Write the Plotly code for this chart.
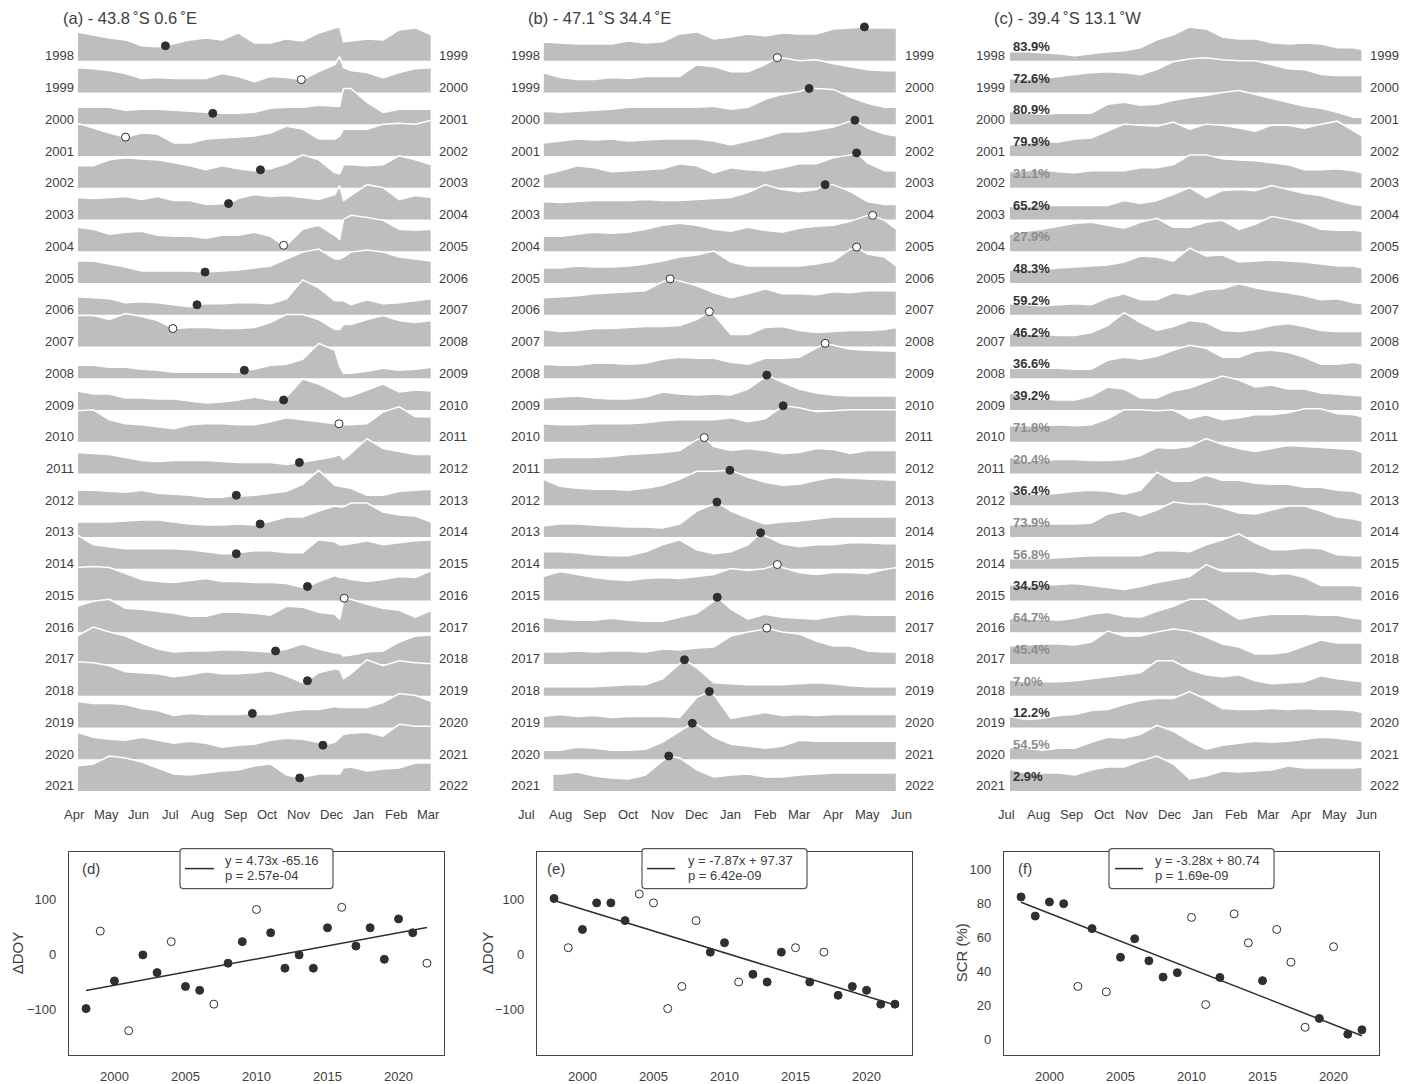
import plotly.graph_objects as go

W, H = 1416, 1084
FONT = "Liberation Sans, Arial, sans-serif"
FILL = "#bdbec0"
DARK = "#2f2f2f"
TEXT = "#3d3d3d"
GREY_TEXT = "#8c8c8c"
ROW_GAP = 31.83  # distance between ridge baselines

SEASONS = list(range(1998, 2022))
SCATTER_YEARS = list(range(1998, 2023))

MONTHS_A = ["Apr", "May", "Jun", "Jul", "Aug", "Sep", "Oct", "Nov", "Dec", "Jan", "Feb", "Mar"]
MONTHS_BC = ["Jul", "Aug", "Sep", "Oct", "Nov", "Dec", "Jan", "Feb", "Mar", "Apr", "May", "Jun"]

# ---------------- (a) 43.8S 0.6E : seasonal index per season (month offset from April)
GRID_A = [0.1, 0.6, 1.1, 1.6, 2.1, 2.6, 3.1, 3.6, 4.1, 4.6, 5.1, 5.6, 6.1, 6.6, 7.1, 7.6,
          8.1, 8.25, 8.37, 8.6, 9.1, 9.6, 10.1, 10.6, 11.1]
A_ROWS = [
    [29, 26, 23, 21, 15, 14, 17, 21, 23, 21, 28, 18, 18, 22, 20, 28, 33, 34, 19, 20, 22, 21, 31, 33, 26],
    [25, 24, 22, 19, 14, 15, 14, 14, 14, 19, 16, 11, 16, 15, 13, 21, 28, 36, 25, 22, 20, 15, 20, 24, 25],
    [17, 17, 17, 14, 15, 15, 14, 13, 12, 11, 11, 12, 16, 17, 17, 19, 18, 18, 36, 36, 22, 12, 15, 15, 15],
    [33, 28, 23, 19, 23, 22, 13, 13, 17, 18, 19, 20, 23, 30, 27, 17, 17, 20, 27, 27, 27, 32, 33, 32, 36],
    [22, 22, 28, 30, 29, 28, 25, 22, 18, 22, 19, 17, 19, 24, 33, 28, 15, 14, 23, 23, 22, 23, 32, 28, 23],
    [22, 21, 22, 23, 20, 23, 19, 19, 15, 16, 21, 25, 23, 24, 22, 20, 25, 34, 19, 24, 35, 32, 20, 24, 22],
    [24, 22, 17, 19, 20, 16, 15, 15, 13, 16, 16, 19, 15, 6, 22, 26, 16, 12, 32, 36, 34, 31, 22, 21, 22],
    [22, 22, 19, 16, 12, 12, 12, 12, 11, 12, 13, 15, 17, 24, 31, 34, 24, 24, 26, 31, 33, 31, 26, 24, 22],
    [18, 17, 16, 12, 13, 12, 10, 8, 11, 11, 12, 12, 11, 16, 35, 27, 14, 14, 14, 10, 15, 11, 12, 14, 16],
    [31, 31, 27, 33, 30, 26, 18, 19, 19, 18, 18, 19, 24, 32, 32, 27, 17, 17, 22, 22, 27, 31, 26, 24, 26],
    [13, 13, 11, 11, 9, 8, 6, 6, 6, 6, 6, 9, 13, 14, 19, 35, 28, 12, 5, 5, 7, 10, 8, 9, 11],
    [19, 16, 16, 12, 12, 11, 11, 9, 7, 8, 10, 13, 10, 13, 31, 26, 18, 15, 13, 14, 20, 26, 18, 20, 19],
    [31, 32, 22, 18, 17, 15, 13, 17, 18, 18, 17, 17, 20, 24, 22, 20, 18, 18, 17, 17, 18, 30, 35, 25, 25],
    [21, 20, 19, 16, 13, 12, 13, 13, 13, 12, 11, 11, 11, 9, 11, 14, 17, 19, 14, 20, 35, 25, 22, 19, 19],
    [15, 15, 14, 13, 15, 12, 11, 10, 8, 8, 9, 10, 12, 14, 21, 35, 20, 19, 18, 17, 10, 10, 14, 15, 16],
    [15, 15, 15, 16, 17, 17, 15, 13, 12, 12, 13, 12, 16, 20, 20, 26, 31, 30, 30, 34, 34, 25, 22, 21, 15],
    [34, 24, 22, 20, 20, 20, 20, 19, 17, 15, 16, 18, 18, 16, 16, 29, 27, 24, 24, 25, 28, 24, 26, 28, 29],
    [33, 34, 33, 27, 21, 19, 18, 20, 22, 19, 19, 18, 18, 17, 13, 19, 25, 23, 23, 21, 19, 21, 24, 23, 30],
    [26, 31, 33, 24, 23, 21, 19, 16, 16, 20, 20, 19, 17, 26, 25, 20, 18, 13, 32, 33, 28, 24, 22, 15, 22],
    [28, 37, 32, 28, 21, 15, 12, 13, 13, 14, 14, 13, 12, 15, 20, 15, 11, 11, 8, 9, 12, 13, 22, 28, 29],
    [34, 33, 30, 24, 23, 22, 19, 21, 24, 22, 22, 23, 25, 20, 13, 23, 27, 26, 17, 22, 36, 30, 35, 33, 32],
    [26, 24, 24, 23, 19, 17, 12, 14, 13, 13, 13, 13, 13, 16, 18, 18, 21, 20, 20, 20, 20, 25, 34, 32, 26],
    [27, 22, 20, 19, 22, 19, 16, 18, 16, 12, 14, 15, 19, 21, 20, 17, 17, 22, 25, 26, 27, 23, 35, 33, 33],
    [25, 27, 35, 33, 29, 23, 17, 16, 18, 20, 21, 25, 27, 16, 14, 17, 17, 17, 23, 24, 20, 22, 23, 28, 28],
]
A_DOT_M = [2.84, 7.06, 4.31, 1.60, 5.79, 4.80, 6.51, 4.07, 3.82, 3.07, 5.29, 6.51,
           8.23, 7.00, 5.04, 5.78, 5.04, 7.25, 8.39, 6.26, 7.25, 5.54, 7.73, 7.01]
A_DOT_H = [15, 13, 11, 19, 18, 16, 6, 11, 10, 18, 8, 10, 18, 11, 10, 13, 15, 14, 34, 13, 15, 14, 14, 13]
A_DOT_OPEN = [0, 1, 0, 1, 0, 0, 1, 0, 0, 1, 0, 0, 1, 0, 0, 0, 0, 0, 1, 0, 0, 0, 0, 0]

# ---------------- (b) 47.1S 34.4E (month offset from July)
GRID_B = [0.5, 1.0, 1.5, 2.0, 2.5, 3.0, 3.5, 4.0, 4.5, 5.0, 5.5, 6.0, 6.5, 7.0, 7.5, 8.0,
          8.5, 9.0, 9.5, 10.0, 10.5, 10.85]
B_ROWS = [
    [19, 18, 17, 17, 17, 20, 18, 19, 27, 29, 22, 24, 27, 25, 28, 27, 27, 32, 33, 33, 33, 33],
    [20, 15, 13, 13, 15, 14, 16, 16, 16, 28, 26, 21, 21, 28, 35, 32, 33, 29, 26, 23, 22, 22],
    [13, 12, 13, 14, 15, 17, 17, 17, 17, 17, 18, 15, 17, 25, 30, 33, 36, 35, 27, 21, 17, 17],
    [13, 15, 17, 16, 17, 15, 16, 17, 17, 17, 15, 11, 15, 19, 24, 24, 26, 29, 35, 28, 22, 20],
    [13, 17, 22, 20, 16, 17, 18, 19, 24, 22, 15, 20, 18, 17, 20, 24, 24, 30, 33, 25, 17, 17],
    [18, 17, 18, 19, 19, 19, 20, 19, 19, 20, 21, 22, 27, 35, 30, 28, 30, 35, 28, 18, 15, 15],
    [15, 15, 17, 19, 18, 19, 22, 26, 28, 26, 22, 20, 24, 21, 19, 23, 25, 26, 30, 36, 31, 22],
    [15, 15, 17, 16, 16, 17, 19, 22, 26, 28, 32, 21, 17, 17, 17, 17, 19, 22, 34, 29, 26, 17],
    [17, 18, 19, 21, 22, 23, 24, 33, 34, 29, 22, 17, 21, 26, 21, 21, 20, 23, 22, 24, 24, 24],
    [17, 15, 16, 18, 18, 19, 20, 20, 21, 27, 32, 12, 12, 19, 20, 16, 14, 15, 16, 16, 17, 19],
    [14, 13, 13, 15, 15, 14, 15, 19, 21, 20, 20, 16, 14, 20, 20, 21, 30, 33, 29, 28, 27, 27],
    [12, 13, 14, 12, 11, 11, 13, 18, 16, 15, 16, 15, 21, 33, 28, 21, 17, 15, 14, 14, 14, 14],
    [18, 17, 17, 18, 18, 18, 19, 21, 22, 22, 22, 24, 20, 23, 35, 34, 30, 31, 32, 32, 32, 32],
    [15, 16, 16, 16, 17, 19, 20, 21, 23, 34, 27, 23, 25, 23, 20, 21, 25, 24, 20, 23, 23, 23],
    [26, 19, 17, 16, 16, 15, 17, 20, 26, 34, 34, 35, 28, 23, 20, 21, 25, 28, 27, 26, 25, 25],
    [11, 13, 13, 12, 11, 10, 10, 9, 13, 26, 33, 26, 19, 13, 15, 16, 18, 20, 20, 20, 20, 20],
    [17, 17, 16, 14, 13, 13, 17, 24, 29, 19, 15, 17, 24, 33, 25, 22, 24, 24, 26, 26, 25, 25],
    [24, 29, 26, 23, 21, 20, 22, 23, 22, 24, 26, 32, 30, 32, 33, 28, 26, 28, 28, 27, 31, 33],
    [15, 13, 12, 12, 14, 12, 11, 11, 15, 19, 31, 23, 13, 18, 15, 14, 13, 16, 18, 17, 17, 17],
    [12, 12, 13, 12, 13, 13, 12, 15, 14, 16, 17, 28, 32, 35, 32, 30, 23, 18, 18, 13, 12, 12],
    [9, 9, 9, 9, 10, 11, 11, 17, 32, 28, 13, 12, 11, 11, 11, 12, 13, 12, 10, 9, 9, 9],
    [11, 13, 11, 12, 10, 11, 11, 11, 10, 30, 33, 9, 12, 15, 12, 13, 12, 13, 13, 13, 13, 13],
    [9, 9, 12, 11, 9, 9, 10, 17, 28, 35, 22, 15, 13, 11, 13, 19, 18, 18, 18, 18, 18, 18],
    [None, 17, 19, 15, 13, 12, 16, 30, 33, 21, 14, 16, 17, 14, 14, 16, 17, 18, 18, 18, 18, 18],
]
# the last season's record begins later than the others: (month, value) of its first sample
B_LATE_START = {23: (0.78, 17)}
B_DOT_M = [9.91, 7.36, 8.29, 9.63, 9.68, 8.76, 10.15, 9.68, 4.22, 5.37, 8.76, 7.05,
           7.53, 5.22, 5.97, 5.59, 6.87, 7.36, 5.60, 7.05, 4.64, 5.37, 4.87, 4.18]
B_DOT_H = [34, 35, 36, 36, 35, 35, 36, 36, 36, 35, 35, 35, 36, 36, 35, 35, 36, 36, 35, 36, 36, 36, 36, 35]
B_DOT_OPEN = [0, 1, 0, 0, 0, 0, 1, 1, 1, 1, 1, 0, 0, 1, 0, 0, 0, 1, 0, 1, 0, 0, 0, 0]

# ---------------- (c) 39.4S 13.1W (month offset from July)
GRID_C = [0.1, 0.6, 1.1, 1.6, 2.1, 2.6, 3.1, 3.6, 4.1, 4.6, 5.1, 5.6, 6.1, 6.6, 7.1, 7.6,
          8.1, 8.6, 9.1, 9.6, 10.1, 10.6, 10.86]
C_ROWS = [
    [9, 9, 8, 7, 5, 7, 9, 10, 13, 21, 26, 34, 32, 24, 22, 22, 18, 17, 18, 17, 13, 13, 11],
    [14, 13, 14, 16, 18, 20, 21, 20, 18, 23, 31, 34, 35, 33, 32, 32, 28, 24, 23, 18, 17, 17, 17],
    [13, 11, 10, 11, 11, 11, 20, 22, 19, 20, 24, 27, 29, 32, 34, 30, 26, 22, 18, 16, 12, 7, 7],
    [11, 13, 14, 14, 17, 18, 25, 32, 31, 30, 34, 27, 32, 31, 28, 25, 31, 31, 28, 32, 35, 25, 20],
    [16, 17, 18, 16, 15, 17, 17, 17, 20, 20, 23, 33, 33, 29, 28, 27, 25, 23, 18, 18, 19, 17, 15],
    [13, 13, 14, 14, 14, 14, 14, 19, 16, 19, 25, 32, 22, 29, 30, 29, 34, 30, 26, 24, 19, 15, 14],
    [17, 20, 22, 25, 28, 29, 26, 23, 29, 33, 24, 24, 29, 31, 22, 27, 35, 32, 28, 22, 21, 21, 20],
    [13, 13, 13, 15, 16, 17, 18, 21, 27, 26, 22, 35, 27, 28, 21, 22, 23, 22, 21, 19, 17, 17, 15],
    [11, 10, 9, 10, 11, 10, 17, 21, 15, 15, 22, 20, 25, 26, 31, 27, 24, 22, 19, 15, 16, 12, 11],
    [13, 12, 12, 11, 11, 14, 21, 34, 24, 16, 20, 26, 24, 16, 15, 17, 21, 23, 20, 16, 15, 15, 15],
    [10, 10, 10, 10, 9, 9, 18, 21, 19, 22, 28, 33, 30, 21, 21, 27, 28, 26, 21, 14, 14, 16, 14],
    [18, 11, 11, 10, 10, 14, 23, 21, 12, 12, 19, 22, 28, 34, 30, 23, 25, 21, 21, 17, 16, 15, 14],
    [16, 16, 16, 17, 16, 17, 23, 32, 32, 31, 32, 23, 27, 22, 24, 27, 27, 29, 33, 33, 28, 27, 25],
    [17, 12, 13, 14, 14, 13, 13, 14, 18, 26, 25, 27, 35, 29, 25, 22, 25, 28, 27, 26, 25, 24, 21],
    [15, 11, 11, 12, 14, 15, 14, 11, 15, 33, 24, 24, 30, 25, 25, 22, 21, 21, 18, 18, 15, 14, 11],
    [12, 13, 13, 13, 13, 14, 23, 26, 21, 27, 35, 33, 33, 29, 24, 23, 27, 31, 31, 26, 20, 18, 16],
    [10, 10, 10, 11, 12, 13, 13, 13, 13, 18, 18, 17, 24, 29, 35, 26, 19, 19, 21, 20, 14, 13, 13],
    [16, 15, 15, 16, 17, 15, 13, 11, 14, 18, 21, 24, 36, 29, 29, 29, 26, 27, 23, 15, 15, 15, 14],
    [14, 13, 13, 12, 14, 18, 20, 16, 15, 21, 26, 33, 33, 23, 13, 16, 18, 18, 18, 17, 17, 14, 13],
    [18, 19, 20, 20, 19, 22, 33, 28, 28, 32, 35, 33, 27, 20, 17, 10, 10, 12, 18, 24, 21, 21, 21],
    [16, 14, 14, 14, 15, 17, 19, 21, 23, 35, 35, 26, 21, 19, 21, 15, 12, 13, 14, 20, 17, 15, 14],
    [11, 8, 9, 12, 13, 17, 18, 23, 27, 29, 29, 36, 28, 19, 18, 18, 19, 18, 19, 18, 18, 17, 15],
    [12, 11, 9, 11, 11, 17, 22, 21, 25, 34, 28, 18, 10, 14, 16, 18, 17, 18, 20, 22, 21, 19, 18],
    [22, 18, 18, 18, 16, 21, 24, 24, 30, 35, 27, 12, 15, 20, 19, 20, 21, 25, 23, 23, 23, 23, 24],
]
SCR = [83.9, 72.6, 80.9, 79.9, 31.1, 65.2, 27.9, 48.3, 59.2, 46.2, 36.6, 39.2,
       71.8, 20.4, 36.4, 73.9, 56.8, 34.5, 64.7, 45.4, 7.0, 12.2, 54.5, 2.9]

# ---------------- lower panels
D_DDOY = [-98, 42, -48, -138, -1, -33, 23, -58, -65, -90, -16, 23, 81, 39, -25, -1, -25,
          48, 85, 15, 48, -9, 64, 39, -16]
D_OPEN = [0, 1, 0, 1, 0, 0, 1, 0, 0, 1, 0, 0, 1, 0, 0, 0, 0, 0, 1, 0, 0, 0, 0, 0, 1]
E_DDOY = [101, 12, 45, 93, 93, 61, 109, 93, -98, -58, 61, 4, 21, -50, -36, -50, 4, 12,
          -50, 4, -74, -58, -65, -90, -90]
E_OPEN = [0, 1, 0, 0, 0, 0, 1, 1, 1, 1, 1, 0, 0, 1, 0, 0, 0, 1, 0, 1, 0, 0, 0, 0, 0]
F_SCR = SCR + [5.5]
F_OPEN = [0, 0, 0, 0, 1, 0, 1, 0, 0, 0, 0, 0, 1, 1, 0, 1, 1, 0, 1, 1, 1, 0, 1, 0, 0]

FITS = {  # slope, intercept, p-value (x counted in years from 1998)
    "d": (4.73, -65.16, "2.57e-04"),
    "e": (-7.87, 97.37, "6.42e-09"),
    "f": (-3.28, 80.74, "1.69e-09"),
}


def px(x):
    return x / W


def py(y):
    return 1 - y / H


fig = go.Figure()
annotations = []
shapes = []
layout_axes = {}

RIDGES = [
    dict(i=1, grid=GRID_A, rows=A_ROWS, dm=A_DOT_M, dh=A_DOT_H, dopen=A_DOT_OPEN, months=MONTHS_A,
         late={}, m0=74, ppm=32.2, left_end=76, right_start=437, title_x=61,
         title="(a) - 43.8\u2009\u02daS 0.6\u2009\u02daE"),
    dict(i=2, grid=GRID_B, rows=B_ROWS, dm=B_DOT_M, dh=B_DOT_H, dopen=B_DOT_OPEN, months=MONTHS_BC,
         late=B_LATE_START, m0=526, ppm=34.15, left_end=541.5, right_start=903, title_x=526,
         title="(b) - 47.1\u2009\u02daS 34.4\u2009\u02daE"),
    dict(i=3, grid=GRID_C, rows=C_ROWS, dm=None, dh=None, dopen=None, months=MONTHS_BC,
         late={}, m0=1006, ppm=32.8, left_end=1007, right_start=1368, title_x=992,
         title="(c) - 39.4\u2009\u02daS 13.1\u2009\u02daW"),
]

for p in RIDGES:
    i = p["i"]
    xa = "x" if i == 1 else f"x{i}"
    ya = "y" if i == 1 else f"y{i}"
    layout_axes["xaxis" if i == 1 else f"xaxis{i}"] = dict(
        domain=[px(p["m0"] - 0.2 * p["ppm"]), px(p["m0"] + 11.2 * p["ppm"])],
        range=[-0.2, 11.2], visible=False, anchor=ya)
    layout_axes["yaxis" if i == 1 else f"yaxis{i}"] = dict(
        domain=[py(800), py(18)], range=[61 - 800, 61 - 18], visible=False, anchor=xa)

    for r, row in enumerate(p["rows"]):
        base = -ROW_GAP * r
        pts = [(g, h) for g, h in zip(p["grid"], row) if h is not None]
        if r in p["late"]:
            pts.append(p["late"][r])
        if p["dm"] is not None:
            pts.append((p["dm"][r], p["dh"][r]))
        pts.sort(key=lambda t: t[0])
        xs = [pts[0][0]] + [t[0] for t in pts] + [pts[-1][0]]
        ys = [base] + [base + t[1] for t in pts] + [base]
        fig.add_trace(go.Scatter(
            x=xs, y=ys, mode="lines", fill="toself", fillcolor=FILL,
            line=dict(color="white", width=1.5), hoverinfo="skip",
            xaxis=xa, yaxis=ya))

        annotations.append(dict(x=px(p["left_end"]), xref="paper", y=base + 5, yref=ya,
                                text=str(SEASONS[r]), showarrow=False, xanchor="right",
                                yanchor="middle", font=dict(size=13, color=TEXT)))
        annotations.append(dict(x=px(p["right_start"]), xref="paper", y=base + 5, yref=ya,
                                text=str(SEASONS[r] + 1), showarrow=False, xanchor="left",
                                yanchor="middle", font=dict(size=13, color=TEXT)))
        if i == 3:
            is_open = F_OPEN[r] == 1
            annotations.append(dict(x=px(1010.5), xref="paper", y=base + 14.5, yref=ya,
                                    text=f"<b>{SCR[r]:.1f}%</b>", showarrow=False,
                                    xanchor="left", yanchor="middle",
                                    font=dict(size=13, color=GREY_TEXT if is_open else "#333333")))

    if p["dm"] is not None:
        fig.add_trace(go.Scatter(
            x=p["dm"], y=[-ROW_GAP * r + h for r, h in enumerate(p["dh"])],
            mode="markers", hoverinfo="skip", xaxis=xa, yaxis=ya,
            marker=dict(size=8, color=["white" if o else DARK for o in p["dopen"]],
                        line=dict(color=DARK, width=1))))

    for k, lab in enumerate(p["months"]):
        annotations.append(dict(x=k, xref=xa, y=py(817), yref="paper", text=lab,
                                showarrow=False, xanchor="center", yanchor="middle",
                                font=dict(size=13, color=TEXT)))
    annotations.append(dict(x=px(p["title_x"]), xref="paper", y=py(18), yref="paper",
                            text=p["title"], showarrow=False, xanchor="left", yanchor="middle",
                            font=dict(size=16.5, color=TEXT)))


def rounded_rect(x0, y0, x1, y1, r=3):
    X = lambda v: f"{px(v):.5f}"
    Y = lambda v: f"{py(v):.5f}"
    return (f"M {X(x0 + r)},{Y(y0)} L {X(x1 - r)},{Y(y0)} Q {X(x1)},{Y(y0)} {X(x1)},{Y(y0 + r)} "
            f"L {X(x1)},{Y(y1 - r)} Q {X(x1)},{Y(y1)} {X(x1 - r)},{Y(y1)} "
            f"L {X(x0 + r)},{Y(y1)} Q {X(x0)},{Y(y1)} {X(x0)},{Y(y1 - r)} "
            f"L {X(x0)},{Y(y0 + r)} Q {X(x0)},{Y(y0)} {X(x0 + r)},{Y(y0)} Z")


SCATTERS = [
    dict(i=4, key="d", vals=D_DDOY, opn=D_OPEN, x0=69, x1=444, yr=[-182, 185.6],
         yticks=[-100, 0, 100], ytitle="ΔDOY", ytitle_x=17,
         box=(180, 333), sample=(185, 214), text_x=223, tag_x=80),
    dict(i=5, key="e", vals=E_DDOY, opn=E_OPEN, x0=537, x1=912, yr=[-182, 185.6],
         yticks=[-100, 0, 100], ytitle="ΔDOY", ytitle_x=487,
         box=(642, 807), sample=(647, 675), text_x=686, tag_x=545),
    dict(i=6, key="f", vals=F_SCR, opn=F_OPEN, x0=1004, x1=1379, yr=[-9.4, 110.6],
         yticks=[0, 20, 40, 60, 80, 100], ytitle="SCR (%)", ytitle_x=961,
         box=(1109, 1274), sample=(1115, 1143), text_x=1153, tag_x=1016),
]

for s in SCATTERS:
    i = s["i"]
    xa, ya = f"x{i}", f"y{i}"
    axis_common = dict(showline=True, mirror=True, linecolor="#444444", linewidth=1.3,
                       ticks="", showgrid=False, zeroline=False,
                       tickfont=dict(size=13, color=TEXT), ticklabelstandoff=9)
    layout_axes[f"xaxis{i}"] = dict(domain=[px(s["x0"]), px(s["x1"])], range=[1996.8, 2023.2],
                                    anchor=ya, tickvals=[2000, 2005, 2010, 2015, 2020],
                                    **axis_common)
    layout_axes[f"yaxis{i}"] = dict(domain=[py(1058), py(854)], range=s["yr"], anchor=xa,
                                    tickvals=s["yticks"], **axis_common)

    slope, icpt, pval = FITS[s["key"]]
    fig.add_trace(go.Scatter(
        x=[SCATTER_YEARS[0], SCATTER_YEARS[-1]],
        y=[icpt, slope * (SCATTER_YEARS[-1] - SCATTER_YEARS[0]) + icpt],
        mode="lines", line=dict(color=DARK, width=1.5), hoverinfo="skip",
        xaxis=xa, yaxis=ya))
    fig.add_trace(go.Scatter(
        x=SCATTER_YEARS, y=s["vals"], mode="markers", hoverinfo="skip", xaxis=xa, yaxis=ya,
        marker=dict(size=8, color=["white" if o else DARK for o in s["opn"]],
                    line=dict(color=DARK, width=1))))

    shapes.append(dict(type="path", xref="paper", yref="paper",
                       path=rounded_rect(s["box"][0], 851, s["box"][1], 891),
                       line=dict(color="#555555", width=1.2), fillcolor="white", layer="above"))
    shapes.append(dict(type="line", xref="paper", yref="paper",
                       x0=px(s["sample"][0]), x1=px(s["sample"][1]), y0=py(871), y1=py(871),
                       line=dict(color=DARK, width=1.5), layer="above"))
    icpt_txt = f"+ {icpt:.2f}" if icpt >= 0 else f"{icpt:.2f}"
    annotations.append(dict(x=px(s["text_x"]), xref="paper", y=py(863), yref="paper",
                            text=f"y = {slope:.2f}x {icpt_txt}",
                            showarrow=False, xanchor="left", yanchor="middle",
                            font=dict(size=13, color=TEXT)))
    annotations.append(dict(x=px(s["text_x"]), xref="paper", y=py(878), yref="paper",
                            text=f"p = {pval}",
                            showarrow=False, xanchor="left", yanchor="middle",
                            font=dict(size=13, color=TEXT)))
    annotations.append(dict(x=px(s["tag_x"]), xref="paper", y=py(871), yref="paper",
                            text=f"({s['key']})", showarrow=False, xanchor="left",
                            yanchor="middle", font=dict(size=15, color=TEXT)))
    annotations.append(dict(x=px(s["ytitle_x"]), xref="paper", y=py(956), yref="paper",
                            text=s["ytitle"], textangle=-90, showarrow=False,
                            xanchor="center", yanchor="middle", font=dict(size=15, color=TEXT)))

fig.update_layout(
    width=W, height=H, margin=dict(l=0, r=0, t=0, b=0),
    paper_bgcolor="white", plot_bgcolor="white", showlegend=False,
    font=dict(family=FONT, color=TEXT),
    annotations=annotations, shapes=shapes, **layout_axes)

fig.write_html("out.html")
